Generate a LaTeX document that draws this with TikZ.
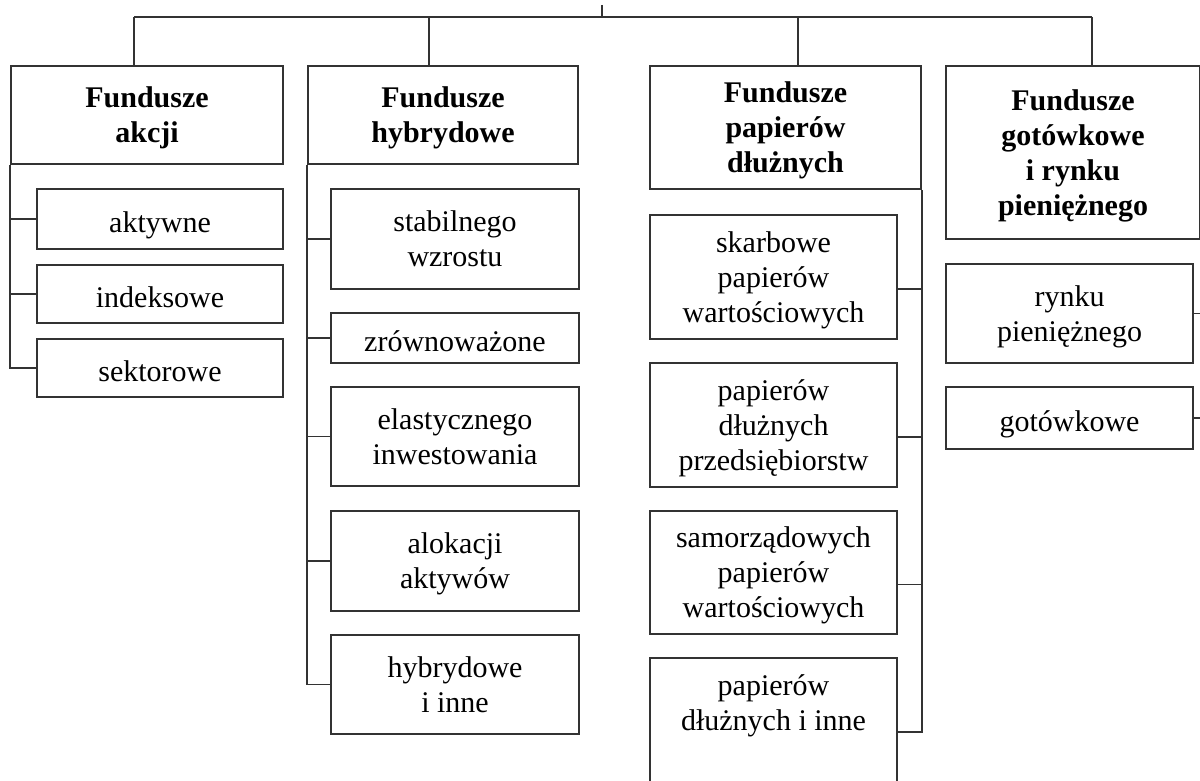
\documentclass[tikz,border=0pt]{standalone}
\usepackage{fontspec}
\setmainfont{Liberation Serif}
\usepackage{tikz}

\begin{document}
\begin{tikzpicture}[
    x=0.5pt, y=-0.5pt,
    color=black!80,
    every path/.style={
        line width=0.9pt
    },
    head/.style={
        rectangle,
        draw,
        align=center,
        inner sep=0pt,
        text=black,
        text depth=0pt,
        font=\fontsize{15pt}{17.5pt}\bfseries,
        execute at begin node={\rule{0pt}{13pt}}
    },
    leaf/.style={
        rectangle,
        draw,
        align=center,
        inner sep=0pt,
        text=black,
        text depth=0pt,
        font=\fontsize{15pt}{17.5pt}\selectfont,
        execute at begin node={\rule{0pt}{13pt}}
    }
]
\useasboundingbox (0,0) rectangle (1200,781);

% main groups
\node[head, minimum width=136pt, minimum height=49pt] (akcje) at (147,115) {Fundusze\\akcji};
\node[head, minimum width=135pt, minimum height=49pt] (hybr) at (443,115) {Fundusze\\hybrydowe};
\node[head, minimum width=135.5pt, minimum height=61.5pt] (dluz) at (785.5,127.5) {Fundusze\\papierów\\dłużnych};
\node[head, minimum width=127pt, minimum height=86.5pt] (gotr) at (1073,152.5) {Fundusze\\gotówkowe\\i rynku\\pieniężnego};

% akcji
\node[leaf, minimum width=123pt, minimum height=30pt] (akt) at (160,219) {aktywne};
\node[leaf, minimum width=123pt, minimum height=29pt] (ind) at (160,294) {indeksowe};
\node[leaf, minimum width=123pt, minimum height=29pt] (sek) at (160,368) {sektorowe};

% hybrydowe
\node[leaf, minimum width=124pt, minimum height=50pt] (stab) at (455,239) {stabilnego\\wzrostu};
\node[leaf, minimum width=124pt, minimum height=25pt] (zrow) at (455,338) {zrównoważone};
\node[leaf, minimum width=124pt, minimum height=49.5pt] (elas) at (455,436.5) {elastycznego\\inwestowania};
\node[leaf, minimum width=124pt, minimum height=50pt] (alok) at (455,561) {alokacji\\aktywów};
\node[leaf, minimum width=124pt, minimum height=49.5pt] (hinne) at (455,684.5) {hybrydowe\\i inne};

% papierow dluznych
\node[leaf, minimum width=123.5pt, minimum height=62pt] (skarb) at (773.5,277) {skarbowe\\papierów\\wartościowych};
\node[leaf, minimum width=123.5pt, minimum height=62pt] (przeds) at (773.5,425) {papierów\\dłużnych\\przedsiębiorstw};
\node[leaf, minimum width=123.5pt, minimum height=61.5pt] (samorz) at (773.5,572.5) {samorządowych\\papierów\\wartościowych};
\node[leaf, minimum width=123.5pt, minimum height=62pt] (dinne) at (773.5,720) {papierów\\dłużnych i inne\\\mbox{}};

% gotowkowe
\node[leaf, minimum width=123.5pt, minimum height=49.5pt] (rynek) at (1069.5,313.5) {rynku\\pieniężnego};
\node[leaf, minimum width=123.5pt, minimum height=31pt] (gotow) at (1069.5,418) {gotówkowe};

% top bar
\coordinate (root) at (602,5);
\coordinate (jA) at (134,17);
\coordinate (jB) at (429,17);
\coordinate (jC) at (798,17);
\coordinate (jD) at (1092,17);

\draw (root) -- (root |- jA);
\draw (jA) -- (jD);
\foreach \j/\h in {jA/akcje, jB/hybr, jC/dluz, jD/gotr}
    \draw (\j) -- (\j |- \h.north);

% branches
\foreach \n in {akt, ind, sek}
    \draw (\n.west) -| (akcje.south west);
\foreach \n in {stab, zrow, elas, alok, hinne}
    \draw (\n.west) -| (hybr.south west);
\foreach \n in {skarb, przeds, samorz, dinne}
    \draw ([yshift=-6pt]\n.east) -| (dluz.south east);
\foreach \n in {rynek, gotow}
    \draw (\n.east) -| (gotr.south east);

\end{tikzpicture}
\end{document}
